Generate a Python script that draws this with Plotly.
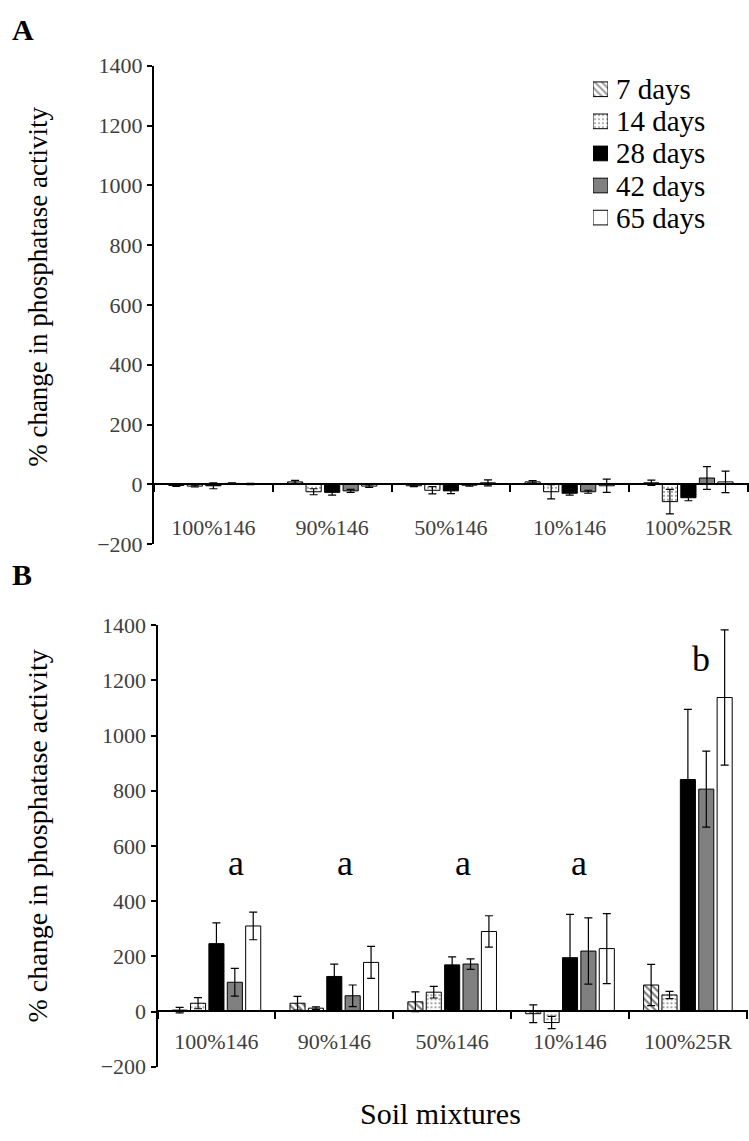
import plotly.graph_objects as go

# Soil mixtures (categories) and incubation times (series)
soils = ["100%146", "90%146", "50%146", "10%146", "100%25R"]
days = ["7 days", "14 days", "28 days", "42 days", "65 days"]

# Panel A: % change in phosphatase activity (mean, error)
a_7 = [-4, 8, -5, 8, 5]
a_7_err = [3, 5, 3, 4, 9]
a_14 = [-6, -25, -20, -25, -58]
a_14_err = [3, 10, 12, 24, 41]
a_28 = [-5, -27, -22, -30, -45]
a_28_err = [10, 9, 9, 6, 10]
a_42 = [3, -22, -3, -25, 21]
a_42_err = [2, 5, 3, 5, 38]
a_65 = [1, -6, 5, -5, 8]
a_65_err = [2, 4, 10, 22, 36]

# Panel B: % change in phosphatase activity (mean, error)
b_7 = [5, 30, 35, -8, 96]
b_7_err = [10, 25, 36, 32, 75]
b_14 = [30, 12, 70, -40, 60]
b_14_err = [20, 5, 21, 22, 13]
b_28 = [246, 127, 169, 195, 841]
b_28_err = [75, 45, 29, 157, 254]
b_42 = [106, 57, 172, 219, 806]
b_42_err = [50, 39, 19, 120, 138]
b_65 = [310, 178, 290, 228, 1138]
b_65_err = [50, 58, 57, 127, 245]

# Significance letters for panel B
letters = ["a", "a", "a", "a", "b"]
letter_y = [540, 540, 540, 540, 1277]
letter_shift = [0.17, 0.09, 0.09, 0.08, 0.11]

y_ticks = list(range(-200, 1401, 200))

SERIF = "Liberation Serif, Times New Roman, serif"
TICK_GREY = "#404040"


def serif(size, color="black"):
    return dict(family=SERIF, size=size, color=color)


# Fill style for each incubation time
fill_colors = ["white", "white", "black", "#808080", "white"]
fill_shapes = ["\\", ".", "", "", ""]
pattern_fg = ["black", "#222222", "black", "black", "black"]
pattern_size = [5, 4, 8, 8, 8]
pattern_solidity = [0.45, 0.22, 0.3, 0.3, 0.3]

panel_a = [(a_7, a_7_err), (a_14, a_14_err), (a_28, a_28_err), (a_42, a_42_err), (a_65, a_65_err)]
panel_b = [(b_7, b_7_err), (b_14, b_14_err), (b_28, b_28_err), (b_42, b_42_err), (b_65, b_65_err)]

fig = go.Figure()

for panel, (xa, ya) in zip([panel_a, panel_b], [("x", "y"), ("x2", "y2")]):
    for i, (name, (vals, errs)) in enumerate(zip(days, panel)):
        pattern = None
        if fill_shapes[i]:
            pattern = dict(shape=fill_shapes[i], fgcolor=pattern_fg[i], bgcolor="white",
                           size=pattern_size[i], solidity=pattern_solidity[i])
        fig.add_trace(go.Bar(
            x=soils, y=vals, name=name,
            xaxis=xa, yaxis=ya, showlegend=False,
            marker=dict(color=fill_colors[i], line=dict(color="black", width=1),
                        pattern=pattern),
            error_y=dict(type="data", array=errs, symmetric=True,
                         color="black", thickness=1.2, width=4),
        ))

# Legend swatches: one horizontal bar per incubation time on a small hidden axis
fig.add_trace(go.Bar(
    x=[1] * len(days), y=days, orientation="h",
    xaxis="x3", yaxis="y3", showlegend=False, hoverinfo="skip",
    marker=dict(
        color=fill_colors, line=dict(color="black", width=1),
        pattern=dict(shape=fill_shapes, fgcolor=pattern_fg, bgcolor="white",
                     size=pattern_size, solidity=pattern_solidity),
    ),
))

# Panel geometry (paper fractions)
H, W = 1141, 749
a_bot, a_top = 1 - 544 / H, 1 - 55 / H
b_bot, b_top = 1 - 1078.3 / H, 1 - 627 / H
a_zero = a_bot + 0.125 * (a_top - a_bot)
b_zero = b_bot + 0.125 * (b_top - b_bot)

xaxis_common = dict(
    type="category", showline=True, linecolor="black", linewidth=2,
    ticks="outside", tickson="boundaries", ticklen=7, tickcolor="black", tickwidth=1.5,
    showgrid=False, zeroline=False,
    tickfont=serif(22, TICK_GREY),
    anchor="free", range=[-0.5, 4.51],
)
yaxis_common = dict(
    range=[-200, 1400], tickvals=y_ticks, showline=True, linecolor="black", linewidth=2,
    ticks="outside", ticklen=5, tickcolor="black", tickwidth=1.5,
    showgrid=False, zeroline=False,
    tickfont=serif(22, TICK_GREY),
)

# Legend rows
row_top, row_step = 79, 32.8
leg_top = row_top - row_step / 2
leg_bot = row_top + row_step * (len(days) - 0.5)

fig.update_layout(
    width=W, height=H,
    margin=dict(l=0, r=0, t=0, b=0),
    paper_bgcolor="white", plot_bgcolor="white",
    barmode="group", bargap=0.22, bargroupgap=0.18,
    font=serif(16),
    showlegend=False,
    xaxis=dict(domain=[154 / W, 1.0], position=a_zero, ticklabelstandoff=23, **xaxis_common),
    yaxis=dict(domain=[a_bot, a_top], anchor="x", **yaxis_common),
    xaxis2=dict(domain=[157.5 / W, 748 / W], position=b_zero, ticklabelstandoff=10, **xaxis_common),
    yaxis2=dict(domain=[b_bot, b_top], anchor="x2", **yaxis_common),
    xaxis3=dict(domain=[593 / W, 608 / W], range=[0, 1], visible=False, anchor="y3"),
    yaxis3=dict(domain=[1 - leg_bot / H, 1 - leg_top / H], type="category",
                categoryorder="array", categoryarray=days[::-1],
                visible=False, anchor="x3"),
)
fig.update_traces(selector=dict(xaxis="x3"), width=15 / row_step)

annotations = [
    dict(text="<b>A</b>", x=10 / W, y=1 - 18 / H, xref="paper", yref="paper",
         xanchor="left", yanchor="middle", showarrow=False, font=serif(30)),
    dict(text="<b>B</b>", x=10 / W, y=1 - 575 / H, xref="paper", yref="paper",
         xanchor="left", yanchor="middle", showarrow=False, font=serif(30)),
    dict(text="% change in phosphatase activity", x=38 / W, y=1 - 281 / H,
         xref="paper", yref="paper", xanchor="center", yanchor="middle",
         textangle=-90, showarrow=False, font=serif(27)),
    dict(text="% change in phosphatase activity", x=38 / W, y=1 - 843 / H,
         xref="paper", yref="paper", xanchor="center", yanchor="middle",
         textangle=-90, showarrow=False, font=serif(28)),
    dict(text="Soil mixtures", x=440 / W, y=1 - 1126 / H, xref="paper", yref="paper",
         xanchor="center", yanchor="middle", showarrow=False, font=serif(30)),
]
for k, name in enumerate(days):
    annotations.append(dict(text=name, x=614 / W, y=1 - (row_top + k * row_step) / H,
                            xref="paper", yref="paper", xanchor="left", yanchor="middle",
                            showarrow=False, font=serif(29)))
for i, (lt, ly, sh) in enumerate(zip(letters, letter_y, letter_shift)):
    annotations.append(dict(text=lt, x=i + sh, y=ly, xref="x2", yref="y2",
                            xanchor="center", yanchor="middle",
                            showarrow=False, font=serif(36)))
fig.update_layout(annotations=annotations)

fig.write_html("out.html")
